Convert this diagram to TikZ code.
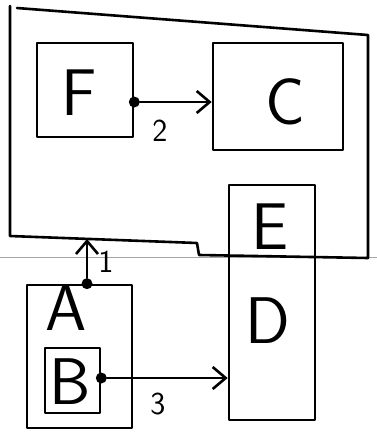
\documentclass[tikz,border=0pt]{standalone}
\usetikzlibrary{arrows.meta}
\begin{document}
\begin{tikzpicture}[x=1pt,y=-1pt,
  ink/.style={line width=2.6pt, line join=round, line cap=round},
  box/.style={ink, draw, rectangle, inner sep=0pt},
  letter/.style={font=\sffamily\fontsize{66}{66}\selectfont, inner sep=0pt},
  num/.style={font=\sffamily\fontsize{32}{32}\selectfont, inner sep=0pt},
  dot/.style={circle, fill, inner sep=0pt, minimum size=11pt},
  arr/.style={ink, -{Straight Barb[length=13pt, width=22pt, line width=2.6pt]}}]
\useasboundingbox (0,0) rectangle (377,432);

% thin separator line
\draw[gray!70, line width=0.8pt] (0,257) -- (377,257);

% outer region with stepped lower edge
\draw[ink] (10,6) -- (10,236) -- (197,243) -- (199,255) -- (368,258)
  -- (368,35) -- (17,8);
\coordinate (oa) at (87,239);

% boxes
\node[box, minimum width=96pt, minimum height=94pt] (F) at (85,90) {};
\node[box, minimum width=130pt, minimum height=107pt] (C) at (278,96.5) {};
\node[box, minimum width=86pt, minimum height=235pt] (ED) at (272,302.5) {};
\node[box, minimum width=105pt, minimum height=143pt] (A) at (79.5,356.5) {};
\node[box, minimum width=55pt, minimum height=65pt] (B) at (72.5,380.5) {};

% letters
\node[letter] (tF) at (79,93) {F};
\node[letter] (tC) at (285,102) {C};
\node[letter] (tE) at (270,227) {E};
\node[letter] (tD) at (268,321) {D};
\node[letter] (tA) at (66,308) {A};
\node[letter] (tB) at (70,382) {B};

% ports
\node[dot] (fd) at (F.east |- 0,102) {};
\node[dot] (ad) at (A.north -| 87,0) {};
\node[dot] (bd) at (B.east |- 0,378) {};

% connectors
\draw[arr] (fd) -- (fd -| C.west);
\draw[arr] (ad) -- (oa);
\draw[arr] (bd) -- (bd -| ED.west);

% connector labels
\node[num] (l2) at (160,131) {2};
\node[num] (l1) at (106,262) {1};
\node[num] (l3) at (158,404) {3};
\end{tikzpicture}
\end{document}
